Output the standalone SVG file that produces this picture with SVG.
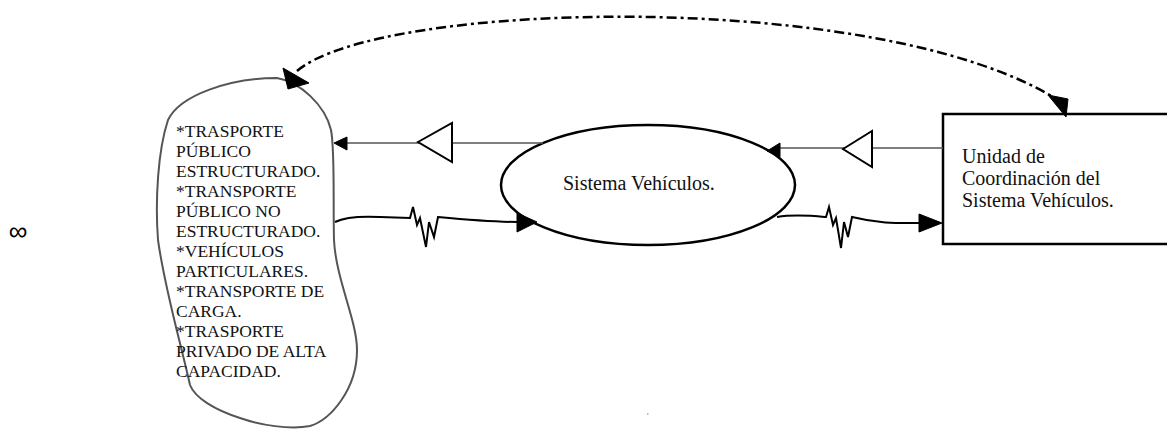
<svg xmlns="http://www.w3.org/2000/svg" width="1167" height="429" viewBox="0 0 1167 429">
<style>
.t{font-family:"Liberation Serif","Times New Roman",serif;fill:#111}
.b{font-size:17.5px}
.n{font-size:20px}
.ln{fill:none;stroke:#000;stroke-width:2}
.thin{fill:none;stroke:#555;stroke-width:1.5}
.ah{fill:#000;stroke:#000;stroke-width:1}
.open{fill:#fff;stroke:#000;stroke-width:2}
</style>
<rect width="1167" height="429" fill="#fff"/>
<text x="18" y="240" class="t" style="font-family:'Liberation Sans',Arial,sans-serif;font-size:26px;fill:#000" text-anchor="middle">∞</text>
<g id="grupos">
<path d="M277,78 C300,82 325,105 331,130 C335,150 333,200 334,240 C336,280 357,320 357,350 C357,390 330,420 310,426 C290,430 260,425 240,418 C215,410 195,398 190,385 C180,340 165,290 158,240 C155,200 158,150 168,120 C180,95 230,78 277,78 Z" fill="none" stroke="#555" stroke-width="2"/>
<text class="t b" x="176"><tspan x="176" y="137">*TRASPORTE</tspan><tspan x="176" y="157">PÚBLICO</tspan><tspan x="176" y="177">ESTRUCTURADO.</tspan><tspan x="176" y="197">*TRANSPORTE</tspan><tspan x="176" y="217">PÚBLICO NO</tspan><tspan x="176" y="237">ESTRUCTURADO.</tspan><tspan x="176" y="257">*VEHÍCULOS</tspan><tspan x="176" y="277">PARTICULARES.</tspan><tspan x="176" y="297">*TRANSPORTE DE</tspan><tspan x="176" y="317">CARGA.</tspan><tspan x="176" y="337">*TRASPORTE</tspan><tspan x="176" y="357">PRIVADO DE ALTA</tspan><tspan x="176" y="377">CAPACIDAD.</tspan></text>
</g>
<g id="sistema">
<ellipse cx="648" cy="185" rx="147" ry="60" fill="#fff" stroke="#000" stroke-width="2.5"/>
<text class="t n" x="563" y="190">Sistema Vehículos.</text>
</g>
<g id="unidad">
<rect x="943" y="114" width="240" height="130" fill="#fff" stroke="#000" stroke-width="2.5"/>
<text class="t n"><tspan x="962" y="163">Unidad de</tspan><tspan x="962" y="185">Coordinación del</tspan><tspan x="962" y="207">Sistema Vehículos.</tspan></text>
</g>
<g id="connectors">
<path d="M297,71 C380,0 880,-12 1058,100" fill="none" stroke="#000" stroke-width="2.5" stroke-dasharray="10 4 3 4"/>
<polygon class="ah" points="283,68 309,83 288,89"/>
<polygon class="ah" points="1048,95 1068,99 1066,117"/>
<line class="thin" x1="347" y1="143" x2="543" y2="143"/>
<polygon class="ah" points="334,143 347,137 347,150"/>
<polygon class="open" points="418,142 452,123 452,162"/>
<line class="thin" x1="780" y1="148" x2="943" y2="148"/>
<polygon class="ah" points="767,151 780,143 780,157"/>
<polygon class="open" points="843,149 872,131 872,167"/>
<path class="ln" d="M335,222 C345,217 360,216 380,217 L410,218 L413,207 L417,225 L420,218 L426,247 L429,222 L434,237 L438,217 C470,220 500,222 518,222"/>
<polygon class="ah" points="517,213 517,232 537,222"/>
<path class="ln" d="M777,217 C795,214 815,216 826,217 L829,207 L833,225 L836,218 L841,248 L844,222 L848,237 L852,217 C880,224 900,223 920,223"/>
<polygon class="ah" points="919,214 919,232 942,223"/>
</g>
<rect x="647" y="413" width="1.5" height="2" fill="#bbb"/>
</svg>
